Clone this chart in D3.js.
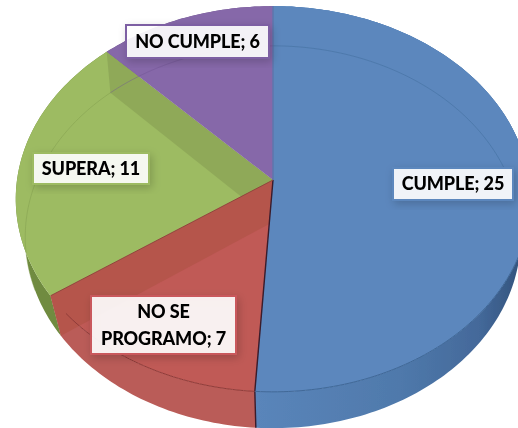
<!DOCTYPE html>
<html><head><meta charset="utf-8">
<script src="https://cdn.jsdelivr.net/npm/d3@7"></script>
<style>html,body{margin:0;padding:0;background:#fff;overflow:hidden}svg{display:block}</style>
</head><body><svg id="c" width="518" height="428"></svg>
<script>
const categories = ["CUMPLE","NO SE PROGRAMO","SUPERA","NO CUMPLE"];
const seriesValues = [25,7,11,6];

const palette = {
  CUMPLE:{top:"#5b87bd",side:"url(#blueSide)",rim:"#3f6796",border:"#5b87bd"},
  "NO SE PROGRAMO":{top:"#c05a56",side:"#ba5c58",rim:"#8f3b38",wall:"#b5554c",border:"#c9585c"},
  SUPERA:{top:"#9dbb62",side:"#6f8b3f",rim:"#7f9a4c",wall:"#8fa959",border:"#9dbb62"},
  "NO CUMPLE":{top:"#8667a9",side:"#6c5289",rim:"#6f5590",border:"#7d5fa3"}
};
const labelLayout = {
  CUMPLE:{x:393,y:168,w:120,h:32,lines:["CUMPLE; 25"]},
  "NO SE PROGRAMO":{x:91,y:296,w:145,h:58,lines:["NO SE","PROGRAMO; 7"]},
  SUPERA:{x:33,y:153,w:116,h:31,lines:["SUPERA; 11"]},
  "NO CUMPLE":{x:126,y:25,w:143,h:33,lines:["NO CUMPLE; 6"]}
};

// perspective discs: top face and bottom face of the pie
const topDisc = {x0:273,y0:180,a:256,b:191,p:-0.0984};
const botDisc = {x0:273,y0:222,a:247,b:190,p:-0.0786};
const project = (d,ang)=>{
  const u=Math.sin(ang), v=-Math.cos(ang), w=1+d.p*v;
  return [d.x0+d.a*u/w, d.y0+d.b*v/w];
};
const arcPts=(d,a0,a1)=>{
  const n=Math.max(2,Math.ceil(Math.abs(a1-a0)/0.02));
  return d3.range(n+1).map(i=>project(d,a0+(a1-a0)*i/n));
};
const line=d3.line();
const closed=pts=>line(pts)+"Z";

const slices=d3.pie().sort(null).value(d=>d)(seriesValues)
  .map((s,i)=>({...s,name:categories[i],c:palette[categories[i]]}));

const svg=d3.select("#c");
const defs=svg.append("defs");
const g1=defs.append("linearGradient").attr("id","blueSide").attr("gradientUnits","userSpaceOnUse")
  .attr("x1",256).attr("x2",518).attr("y1",0).attr("y2",0);
[[0,"#5a85ba"],[0.55,"#4f79ab"],[0.85,"#44699a"],[1,"#34557f"]].forEach(([o,c])=>g1.append("stop").attr("offset",o).attr("stop-color",c));
const soft=defs.append("filter").attr("id","soft");
soft.append("feGaussianBlur").attr("stdDeviation",0.45);
const sh=defs.append("filter").attr("id","shadow").attr("x","-20%").attr("y","-30%").attr("width","140%").attr("height","160%");
sh.append("feDropShadow").attr("dx",2).attr("dy",3).attr("stdDeviation",4).attr("flood-color","#000").attr("flood-opacity",0.2);
const txt=defs.append("filter").attr("id","txt");
txt.append("feGaussianBlur").attr("stdDeviation",0.25);

const pie=svg.append("g").attr("filter","url(#soft)");

// outer side walls
pie.selectAll("path.side").data(slices).join("path").attr("class","side")
  .attr("d",s=>closed([...arcPts(topDisc,s.startAngle,s.endAngle),...arcPts(botDisc,s.endAngle,s.startAngle)]))
  .attr("fill",s=>s.c.side);

// slices, back ones first, with their radial inner walls
const order=["SUPERA","NO CUMPLE","NO SE PROGRAMO","CUMPLE"];
order.forEach(name=>{
  const s=slices.find(d=>d.name===name);
  pie.append("path")
    .attr("d",closed([[topDisc.x0,topDisc.y0],...arcPts(topDisc,s.startAngle,s.endAngle)]))
    .attr("fill",s.c.top);
  if(s.c.wall){
    const e=s.endAngle;
    pie.append("path")
      .attr("d",closed([[topDisc.x0,topDisc.y0],project(topDisc,e),project(botDisc,e),[botDisc.x0,botDisc.y0]]))
      .attr("fill",s.c.wall);
  }
});

// blue face repainted above walls, with dark seam at its start/end
const blue=slices[0];
pie.append("path").attr("d",closed([[topDisc.x0,topDisc.y0],...arcPts(topDisc,blue.startAngle,blue.endAngle)])).attr("fill",blue.c.top);
pie.append("path").attr("d",line([[topDisc.x0,topDisc.y0],project(topDisc,blue.endAngle),project(botDisc,blue.endAngle)]))
  .attr("fill","none").attr("stroke","#3a1a2a").attr("stroke-width",1.4);
pie.append("path").attr("d",line([[topDisc.x0,topDisc.y0],project(topDisc,0)]))
  .attr("fill","none").attr("stroke","#5f76ad").attr("stroke-width",1.6);
pie.append("path").attr("d",line([[topDisc.x0,topDisc.y0],project(topDisc,slices[1].endAngle)]))
  .attr("fill","none").attr("stroke","#8f4a3c").attr("stroke-width",1);

// faint bottom rim seen through the slices, front top rim
[[slices[0],0,1.35],[slices[2],slices[2].startAngle+0.25,slices[2].endAngle],[slices[3],slices[3].startAngle,slices[3].endAngle]].forEach(([s,a0,a1])=>{
  pie.append("path").attr("d",line(arcPts(botDisc,a0,a1)))
    .attr("fill","none").attr("stroke",s.c.rim).attr("stroke-width",0.8).attr("opacity",0.55);
});
slices.slice(0,2).forEach(s=>{
  const a0=s.name==="CUMPLE"?1.95:s.startAngle;
  const a1=s.name==="CUMPLE"?s.endAngle:Math.min(s.endAngle,4.0);
  pie.append("path").attr("d",line(arcPts(topDisc,a0,a1)))
    .attr("fill","none").attr("stroke",s.c.rim).attr("stroke-width",1);
});

// labels
const labels=svg.selectAll("g.lab").data(slices).join("g").attr("class","lab");
labels.append("rect")
  .attr("x",s=>labelLayout[s.name].x).attr("y",s=>labelLayout[s.name].y)
  .attr("width",s=>labelLayout[s.name].w).attr("height",s=>labelLayout[s.name].h)
  .attr("fill","#fff").attr("fill-opacity",0.9)
  .attr("stroke",s=>s.c.border).attr("stroke-width",2).attr("filter","url(#shadow)");
labels.each(function(s){
  const l=labelLayout[s.name], n=l.lines.length, lh=27;
  d3.select(this).selectAll("text").data(l.lines).join("text")
    .attr("x",l.x+l.w/2)
    .attr("y",(t,i)=>l.y+l.h/2+(i-(n-1)/2)*lh)
    .attr("dy","0.36em").attr("text-anchor","middle")
    .attr("font-family","Lato, 'Open Sans', sans-serif").attr("font-weight",900).attr("font-size",18)
    .attr("letter-spacing",-0.1).attr("filter","url(#txt)")
    .attr("fill","#050505").text(t=>t);
});
</script></body></html>
